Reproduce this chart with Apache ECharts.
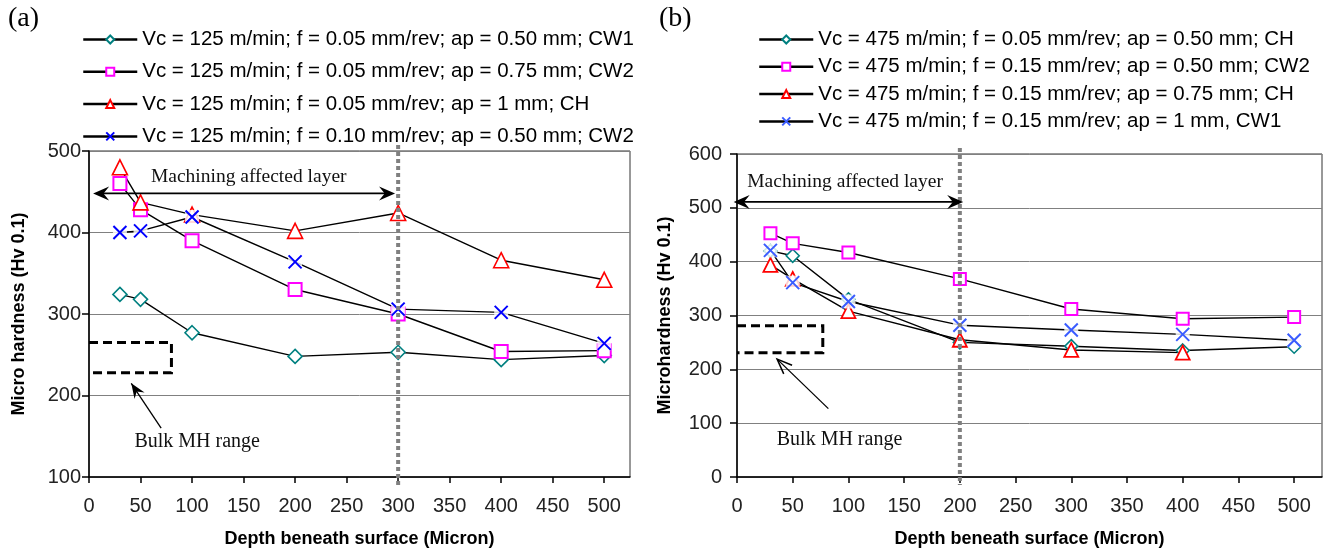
<!DOCTYPE html>
<html><head><meta charset="utf-8">
<script src="https://cdn.jsdelivr.net/npm/echarts@6/dist/echarts.min.js"></script>
<style>html,body{margin:0;padding:0;background:#fff}#c{width:1326px;height:553px}</style>
</head><body><div id="c"></div>
<script>
// ---------- data ----------
const depths = [30, 50, 100, 200, 300, 400, 500];
const xTicks = [0, 50, 100, 150, 200, 250, 300, 350, 400, 450, 500];
const yTicksA = [100, 200, 300, 400, 500];
const yTicksB = [0, 100, 200, 300, 400, 500, 600];

const namesA = [
  'Vc = 125 m/min; f = 0.05 mm/rev; ap = 0.50 mm; CW1',
  'Vc = 125 m/min; f = 0.05 mm/rev; ap = 0.75 mm; CW2',
  'Vc = 125 m/min; f = 0.05 mm/rev; ap = 1 mm; CH',
  'Vc = 125 m/min; f = 0.10 mm/rev; ap = 0.50 mm; CW2'
];
const a1 = [324, 318, 277, 248, 253, 244, 249];
const a2 = [460, 428, 390, 330, 300, 254, 255];
const a3 = [480, 437, 422, 402, 424, 366, 342];
const a4 = [400, 402, 419, 364, 306, 302, 264];

const namesB = [
  'Vc = 475 m/min; f = 0.05 mm/rev; ap = 0.50 mm; CH',
  'Vc = 475 m/min; f = 0.15 mm/rev; ap = 0.50 mm; CW2',
  'Vc = 475 m/min; f = 0.15 mm/rev; ap = 0.75 mm; CH',
  'Vc = 475 m/min; f = 0.15 mm/rev; ap = 1 mm, CW1'
];
const b1 = [420, 411, 330, 250, 243, 235, 242];
const b2 = [453, 434, 417, 368, 312, 294, 297];
const b3 = [394, 368, 308, 255, 236, 231, null];
const b4 = [421, 361, 326, 282, 273, 265, 254];

// annotations (data space)
const affectedDepthA = 300, affectedDepthB = 200;
const bulkA = [228, 265], bulkB = [231, 281];
const bulkDepthA = 80, bulkDepthB = 77;

// ---------- chart ----------
const chart = echarts.init(document.getElementById('c'), null, {renderer: 'canvas'});
const FONT = 'Liberation Sans, Arial, sans-serif';
const SERIF = 'Liberation Serif, Times New Roman, serif';
const X_PATH = 'path://M0,0L10,10M10,0L0,10';

function pairs(ys) { const out = []; ys.forEach((v, i) => { if (v !== null) out.push([depths[i], v]); }); return out; }

function xAxis(gi) {
  return {
    gridIndex: gi, type: 'value', min: 0, max: 525,
    name: 'Depth beneath surface (Micron)', nameLocation: 'middle', nameGap: 53,
    nameTextStyle: {fontFamily: FONT, fontWeight: 'bold', fontSize: 18, color: '#000'},
    axisLine: {lineStyle: {color: '#000', width: 1.5}},
    axisTick: {show: true, length: 6, lineStyle: {color: '#000', width: 1.5}, customValues: xTicks},
    axisLabel: {fontFamily: FONT, fontSize: 20, color: '#222', margin: 19, customValues: xTicks},
    splitLine: {show: false}
  };
}
function yAxis(gi, min, max, name, gap, margin, ticks) {
  return {
    gridIndex: gi, type: 'value', min: min, max: max, interval: 100,
    name: name, nameLocation: 'middle', nameGap: gap,
    nameTextStyle: {fontFamily: FONT, fontWeight: 'bold', fontSize: 18, color: '#000'},
    axisLine: {show: true, lineStyle: {color: '#000', width: 1.5}},
    axisTick: {show: true, length: 7, lineStyle: {color: '#000', width: 1.5}, customValues: ticks},
    axisLabel: {fontFamily: FONT, fontSize: 20, color: '#222', margin: margin, customValues: ticks},
    splitLine: {show: true, lineStyle: {color: '#808080', width: 1}}
  };
}
function ser(gi, name, ys, symbol, color, size, bw) {
  return {
    type: 'line', name: name, xAxisIndex: gi, yAxisIndex: gi, data: pairs(ys),
    symbol: symbol, symbolSize: size, showAllSymbol: true,
    lineStyle: {color: '#000', width: 1.4},
    itemStyle: {color: symbol === X_PATH ? color : '#fff', borderColor: color, borderWidth: bw},
    emphasis: {disabled: true}, animation: false, z: 3
  };
}
function box(gi, ys, size) {
  return {
    type: 'scatter', xAxisIndex: gi, yAxisIndex: gi, data: pairs(ys), symbol: 'rect', symbolSize: size,
    itemStyle: {color: '#fff'}, silent: true, animation: false, z: 3
  };
}
const legendBase = {
  orient: 'vertical', itemWidth: 54, itemHeight: 10, selectedMode: false,
  textStyle: {fontFamily: FONT, fontSize: 20.5, color: '#000'},
  lineStyle: {width: 2.5, color: '#000'}
};

chart.setOption({
  backgroundColor: '#fff',
  animation: false,
  legend: [
    Object.assign({}, legendBase, {data: namesA, left: 77, top: 24, itemGap: 11.3}),
    Object.assign({}, legendBase, {data: namesB, left: 753, top: 24, itemGap: 6.3})
  ],
  grid: [
    {left: 89, top: 151, width: 541, height: 326, show: true, borderColor: '#333', borderWidth: 1, containLabel: false},
    {left: 737, top: 154, width: 585, height: 327, show: true, borderColor: '#333', borderWidth: 1, containLabel: false}
  ],
  xAxis: [xAxis(0), xAxis(1)],
  yAxis: [
    yAxis(0, 100, 500, 'Micro hardness (Hv 0.1)', 61, 8, yTicksA),
    yAxis(1, 0, 600, 'Microhardness (Hv 0.1)', 63, 15, yTicksB)
  ],
  series: [
    ser(0, namesA[0], a1, 'diamond', '#008080', 14, 1.6),
    ser(0, namesA[1], a2, 'rect', '#ff00ff', 13, 2),
    ser(0, namesA[2], a3, 'triangle', '#ff0000', 15, 1.6),
    box(0, a4, 14),
    ser(0, namesA[3], a4, X_PATH, '#0000ff', 13, 2),
    ser(1, namesB[0], b1, 'diamond', '#008080', 13, 1.6),
    ser(1, namesB[1], b2, 'rect', '#ff00ff', 12, 2),
    ser(1, namesB[2], b3, 'triangle', '#ff0000', 14, 1.8),
    box(1, b4, 14),
    ser(1, namesB[3], b4, X_PATH, '#3a5cff', 13, 2)
  ]
});

// ---------- annotations ----------
function px(g, x, y) { return chart.convertToPixel({gridIndex: g}, [x, y]); }
function head(tip, from, len, hw, filled) {
  const dx = tip[0] - from[0], dy = tip[1] - from[1];
  const L = Math.hypot(dx, dy), ux = dx / L, uy = dy / L, nx = -uy, ny = ux;
  const bx = tip[0] - ux * len, by = tip[1] - uy * len;
  if (filled) {
    return {type: 'polygon', shape: {points: [tip, [bx + nx * hw, by + ny * hw], [tip[0] - ux * len * 0.65, tip[1] - uy * len * 0.65], [bx - nx * hw, by - ny * hw]]},
      style: {fill: '#000'}, z: 10, silent: true};
  }
  return {type: 'polyline', shape: {points: [[bx + nx * hw, by + ny * hw], tip, [bx - nx * hw, by - ny * hw]]},
    style: {stroke: '#000', lineWidth: 1.5, fill: null}, z: 10, silent: true};
}
const G = [];
function vline(g, x, ymin, ymax) {
  const p1 = px(g, x, ymax), p2 = px(g, x, ymin);
  G.push({type: 'line', shape: {x1: p1[0], y1: p1[1] - 6, x2: p2[0], y2: p2[1] + 8},
    style: {stroke: '#808080', lineWidth: 4, lineDash: [4, 3]}, z: 9, silent: true});
}
function dblArrow(g, x1, x2, y) {
  const a = px(g, x1, y), b = px(g, x2, y);
  G.push({type: 'line', shape: {x1: a[0] + 8, y1: a[1], x2: b[0] - 8, y2: b[1]}, style: {stroke: '#000', lineWidth: 1.6}, z: 10, silent: true});
  G.push(head(a, b, 16, 7, true));
  G.push(head(b, a, 16, 7, true));
}
function text(g, x, y, s, size) {
  const p = px(g, x, y);
  G.push({type: 'text', x: p[0], y: p[1], style: {text: s, fontFamily: SERIF, fontSize: size, fill: '#111', align: 'center', verticalAlign: 'middle'}, z: 10, silent: true});
}
function bulkBox(g, depth, r) {
  const a = px(g, 0, r[1]), b = px(g, depth, r[0]);
  G.push({type: 'polyline', shape: {points: [[a[0], a[1]], [b[0], a[1]], [b[0], b[1]], [a[0], b[1]]]},
    style: {stroke: '#000', lineWidth: 3, lineDash: [9, 5], fill: null}, z: 9, silent: true});
}
function pointer(g, from, to, filled) {
  const a = px(g, from[0], from[1]), b = px(g, to[0], to[1]);
  G.push({type: 'line', shape: {x1: a[0], y1: a[1], x2: b[0], y2: b[1]}, style: {stroke: '#000', lineWidth: 1.3}, z: 10, silent: true});
  G.push(head(b, a, 15, 6, filled));
}

vline(0, affectedDepthA, 100, 500);
vline(1, affectedDepthB, 0, 600);
dblArrow(0, 4, 297, 448);
dblArrow(1, -3, 203, 511);
text(0, 155, 468, 'Machining affected layer', 19.5);
text(1, 97, 548, 'Machining affected layer', 19.5);
bulkBox(0, bulkDepthA, bulkA);
bulkBox(1, bulkDepthB, bulkB);
pointer(0, [70, 160], [41, 215], true);
pointer(1, [82, 127], [36, 219], false);
text(0, 105, 143, 'Bulk MH range', 20);
text(1, 92, 70, 'Bulk MH range', 20);
G.push({type: 'text', x: 8, y: 5, style: {text: '(a)', fontFamily: SERIF, fontSize: 28, fill: '#000'}, silent: true});
G.push({type: 'text', x: 659, y: 5, style: {text: '(b)', fontFamily: SERIF, fontSize: 28, fill: '#000'}, silent: true});
chart.setOption({graphic: G});
</script>
</body></html>
